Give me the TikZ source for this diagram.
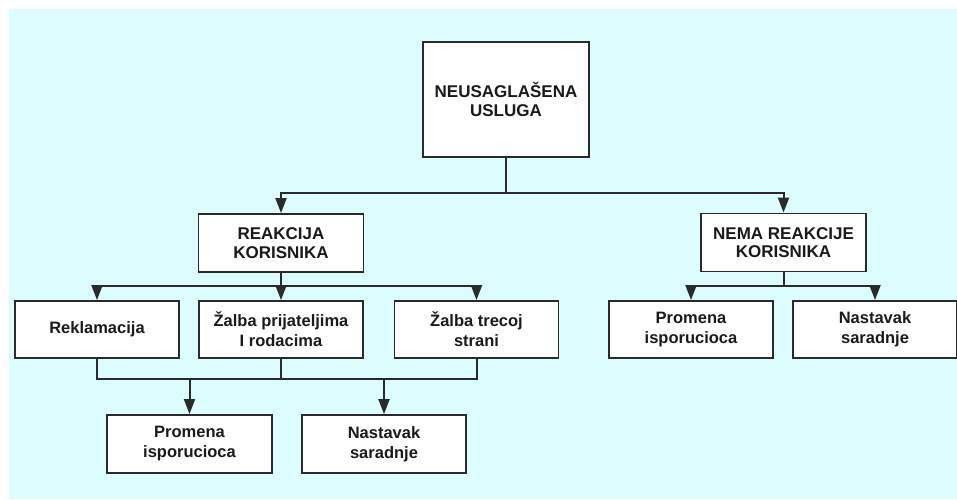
\documentclass[tikz,border=0pt]{standalone}
\usepackage{fontspec}
\setmainfont{Liberation Sans}
\usetikzlibrary{arrows.meta}
\definecolor{bgcyan}{HTML}{DDFCFD}
\definecolor{linegray}{HTML}{2A2A2A}
\definecolor{textgray}{HTML}{1A1A1A}
\begin{document}
\begin{tikzpicture}[x=1pt,y=-1pt,
  box/.style={draw=linegray,line width=1.9pt,fill=white,align=center,
    inner sep=0pt,text=textgray,font=\bfseries\fontsize{17}{18.5}\selectfont},
  headbox/.style={box,minimum width=165pt,minimum height=58pt},
  leafbox/.style={box,minimum width=164pt,minimum height=57pt,
    font=\bfseries\fontsize{16.5}{20}\selectfont},
  link/.style={draw=linegray,line width=2pt},
  arrowlink/.style={link,-{Triangle[width=11pt,length=15pt]}}]
% page and background panel
\useasboundingbox (0,0) rectangle (957,499);
\fill[white] (0,0) rectangle (957,499);
\fill[bgcyan] (9,9) rectangle (957,499);

% root
\node[box,minimum width=166pt,minimum height=115pt] (root) at (506,99.5)
  {NEUSAGLAŠENA\\USLUGA};

% second level
\node[headbox] (reak) at (281,243) {REAKCIJA\\KORISNIKA};
\node[headbox] (nema) at (783.5,242.5) {NEMA REAKCIJE\\KORISNIKA};

% third level
\node[leafbox] (rekl)  at (97,329.5)    {Reklamacija};
\node[leafbox] (zprij) at (281,329.5)   {Žalba prijateljima\\I rodacima};
\node[leafbox] (ztrec) at (476.5,329.5) {Žalba trecoj\\strani};
\node[leafbox] (prom2) at (691,329.5)   {Promena\\isporucioca};
\node[leafbox] (nast2) at (875,329.5)   {Nastavak\\saradnje};

% bottom level
\node[leafbox,minimum width=165pt,minimum height=58pt] (prom1) at (189.5,444) {Promena\\isporucioca};
\node[leafbox,minimum height=58pt] (nast1) at (384,444) {Nastavak\\saradnje};

% junction points of the buses
\coordinate (j1) at (506,193);
\coordinate (j2) at (281,286);
\coordinate (j3) at (783.5,286);
\coordinate (j4) at (281,379);

% root to second level
\draw[link] (root.south) -- (j1);
\draw[arrowlink] (j1) -| (reak.north);
\draw[arrowlink] (j1) -| (nema.north);

% user reaction branch
\draw[link] (reak.south) -- (j2);
\draw[arrowlink] (j2) -| (rekl.north);
\draw[arrowlink] (j2) -- (zprij.north);
\draw[arrowlink] (j2) -| (ztrec.north);

% no reaction branch
\draw[link] (nema.south) -- (j3);
\draw[arrowlink] (j3) -| (prom2.north);
\draw[arrowlink] (j3) -| (nast2.north);

% merging bus to the outcomes
\draw[link] (rekl.south) |- (j4) -| (ztrec.south);
\draw[link] (zprij.south) -- (j4);
\draw[arrowlink] (prom1.north |- j4) -- (prom1.north);
\draw[arrowlink] (nast1.north |- j4) -- (nast1.north);
\end{tikzpicture}
\end{document}
